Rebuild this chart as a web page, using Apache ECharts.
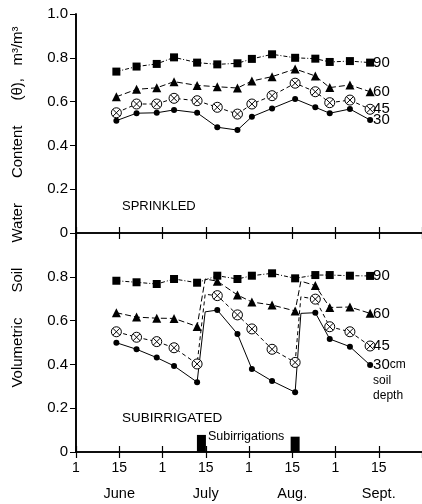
<!DOCTYPE html>
<html><head><meta charset="utf-8">
<script src="https://cdn.jsdelivr.net/npm/echarts@6/dist/echarts.min.js"></script>
<style>html,body{margin:0;padding:0;background:#fff}#c{width:422px;height:504px}</style>
</head><body><div id="c"></div>
<script>
// x values: days after June 1 (ticks every 15 days = half month)
const days = [14, 21, 28, 34, 42, 49, 56, 61, 68, 76, 83, 88, 95, 102];
const tickLabels = ['1', '15', '1', '15', '1', '15', '1', '15'];
const monthLabels = ['June', 'July', 'Aug.', 'Sept.'];
const yTickLabels = ['0', '0.2', '0.4', '0.6', '0.8', '1.0'];

const sprinkled90 = [0.737, 0.760, 0.772, 0.802, 0.778, 0.770, 0.775, 0.795, 0.816, 0.800, 0.796, 0.781, 0.785, 0.778];
const sprinkled60 = [0.622, 0.656, 0.663, 0.691, 0.674, 0.668, 0.662, 0.694, 0.714, 0.749, 0.717, 0.664, 0.676, 0.645];
const sprinkled45 = [0.549, 0.589, 0.589, 0.615, 0.604, 0.574, 0.543, 0.589, 0.627, 0.684, 0.645, 0.595, 0.607, 0.565];
const sprinkled30 = [0.513, 0.547, 0.549, 0.562, 0.549, 0.483, 0.470, 0.531, 0.569, 0.612, 0.574, 0.547, 0.566, 0.516];

const subirrigated90 = [0.782, 0.775, 0.767, 0.790, 0.773, 0.805, 0.790, 0.805, 0.816, 0.793, 0.808, 0.808, 0.805, 0.804];
const subirrigated60 = [0.636, 0.616, 0.611, 0.610, 0.573, 0.780, 0.717, 0.685, 0.671, 0.644, 0.760, 0.660, 0.662, 0.633];
const subirrigated45 = [0.549, 0.524, 0.504, 0.476, 0.402, 0.714, 0.626, 0.562, 0.469, 0.409, 0.698, 0.572, 0.549, 0.484];
const subirrigated30 = [0.499, 0.469, 0.431, 0.393, 0.319, 0.648, 0.539, 0.379, 0.324, 0.273, 0.636, 0.516, 0.481, 0.397];

// unmarked vertices where water rises right after each subirrigation
const jumpDays = [44.8, 78];
const jump60 = [0.790, 0.780];
const jump45 = [0.720, 0.709];
const jump30 = [0.640, 0.633];

const irrigationDays = [43.5, 76];
const irrigationBars = [0.078, 0.070];

const FONT = 'Liberation Sans, Arial, sans-serif';
const BLACK = '#000';
const otimes = 'path://M10,0A10,10,0,1,1,10,20A10,10,0,1,1,10,0ZM2.93,2.93L17.07,17.07M17.07,2.93L2.93,17.07';

const styles = {
  '90': { symbol: 'rect', symbolSize: 8, type: [4, 2, 1, 2], fill: BLACK },
  '60': { symbol: 'triangle', symbolSize: 9, type: [6, 3], fill: BLACK },
  '45': { symbol: otimes, symbolSize: 10, type: [4, 3], fill: '#fff' },
  '30': { symbol: 'circle', symbolSize: 6, type: 'solid', fill: BLACK }
};

function buildData(vals, jumps) {
  const out = [];
  vals.forEach((v, i) => {
    out.push([days[i], v]);
    if (jumps) {
      jumpDays.forEach((d, k) => {
        if (d > days[i] && (i + 1 >= days.length || d < days[i + 1])) {
          out.push({ value: [d, jumps[k]], symbol: 'none' });
        }
      });
    }
  });
  return out;
}

function lineSeries(name, vals, grid, jumps, labelFmt, labelExtra) {
  const s = styles[name];
  return {
    type: 'line', name: name,
    xAxisIndex: grid === 0 ? 0 : 2, yAxisIndex: grid === 0 ? 0 : 2,
    data: buildData(vals, jumps),
    symbol: s.symbol, symbolSize: s.symbolSize, symbolKeepAspect: true,
    showAllSymbol: true,
    itemStyle: { color: s.fill, borderColor: BLACK, borderWidth: name === '45' ? 1 : 0 },
    lineStyle: { color: BLACK, width: 1, type: s.type },
    emphasis: { disabled: true },
    silent: true,
    z: 3,
    endLabel: Object.assign({
      show: true, color: BLACK, fontFamily: FONT, fontSize: 15, distance: 3,
      formatter: labelFmt || name
    }, labelExtra || {})
  };
}

const xBase = { type: 'value', min: 0, max: 120, interval: 15, splitLine: { show: false } };
const axisLine = { show: true, lineStyle: { color: BLACK, width: 1.6 } };
const innerTick = { inside: true, length: 6, lineStyle: { color: BLACK, width: 1.2 } };

const option = {
  animation: false,
  backgroundColor: '#fff',
  grid: [
    { left: 76, top: 14, width: 349, height: 219 },
    { left: 76, top: 233, width: 349, height: 219 }
  ],
  title: [
    { text: 'SPRINKLED', left: 117, top: 195, textStyle: { fontFamily: FONT, fontSize: 13, fontWeight: 'normal', color: BLACK } },
    { text: 'SUBIRRIGATED', left: 117, top: 406, textStyle: { fontFamily: FONT, fontSize: 13.5, fontWeight: 'normal', color: BLACK } }
  ],
  xAxis: [
    Object.assign({ gridIndex: 0, position: 'bottom', axisLine: axisLine, axisTick: innerTick, axisLabel: { show: false } }, xBase),
    Object.assign({ gridIndex: 0, position: 'top', axisLine: axisLine, axisTick: innerTick, axisLabel: { show: false } }, xBase),
    Object.assign({ gridIndex: 1, position: 'bottom', axisLine: axisLine, axisTick: innerTick,
      axisLabel: { show: true, margin: 9, color: BLACK, fontFamily: FONT, fontSize: 14, showMaxLabel: false,
        formatter: v => tickLabels[Math.round(v / 15)] || '' } }, xBase),
    Object.assign({ gridIndex: 1, position: 'top', axisLine: axisLine, axisTick: innerTick, axisLabel: { show: false } }, xBase),
    Object.assign({ gridIndex: 1, position: 'bottom', offset: 25, axisLine: { show: false }, axisTick: { show: false },
      axisLabel: { show: true, margin: 9, color: BLACK, fontFamily: FONT, fontSize: 14.5, showMaxLabel: false,
        formatter: v => { const i = Math.round(v / 15); return i % 2 === 1 ? (monthLabels[(i - 1) / 2] || '') : ''; } } }, xBase)
  ],
  yAxis: [
    { gridIndex: 0, type: 'value', min: 0, max: 1, interval: 0.2, position: 'left', splitLine: { show: false },
      axisLine: axisLine, axisTick: { show: true, length: 4, lineStyle: { color: BLACK } },
      axisLabel: { color: BLACK, fontFamily: FONT, fontSize: 15, margin: 8, formatter: v => yTickLabels[Math.round(v * 5)] } },
    { gridIndex: 0, type: 'value', min: 0, max: 1, interval: 0.2, position: 'right', splitLine: { show: false },
      axisLine: axisLine, axisTick: { show: true, inside: true, length: 6, lineStyle: { color: BLACK } }, axisLabel: { show: false } },
    { gridIndex: 1, type: 'value', min: 0, max: 1, interval: 0.2, position: 'left', splitLine: { show: false },
      axisLine: axisLine, axisTick: { show: true, length: 4, lineStyle: { color: BLACK } },
      axisLabel: { color: BLACK, fontFamily: FONT, fontSize: 15, margin: 8, showMaxLabel: false,
        formatter: v => { const i = Math.round(v * 5); return i === 5 ? '' : yTickLabels[i]; } } },
    { gridIndex: 1, type: 'value', min: 0, max: 1, interval: 0.2, position: 'right', splitLine: { show: false },
      axisLine: axisLine, axisTick: { show: true, inside: true, length: 6, lineStyle: { color: BLACK } }, axisLabel: { show: false } }
  ],
  graphic: [
    { type: 'text', x: 18, y: 207, rotation: Math.PI / 2,
      style: { text: 'Volumetric      Soil      Water      Content      (\u03b8),   m\u00b3/m\u00b3', fill: BLACK,
        font: '15px ' + FONT, textAlign: 'center', textVerticalAlign: 'middle' } }
  ],
  series: [
    lineSeries('90', sprinkled90, 0),
    lineSeries('60', sprinkled60, 0),
    lineSeries('45', sprinkled45, 0),
    lineSeries('30', sprinkled30, 0),
    lineSeries('90', subirrigated90, 1),
    lineSeries('60', subirrigated60, 1, jump60),
    lineSeries('45', subirrigated45, 1, jump45),
    lineSeries('30', subirrigated30, 1, jump30, '30{s|cm}\n{t|soil}\n{t|depth}',
      { offset: [0, 15], lineHeight: 16, rich: { s: { fontSize: 12, fontFamily: FONT, color: BLACK }, t: { fontSize: 12, fontFamily: FONT, color: BLACK, lineHeight: 15 } } }),
    { type: 'bar', xAxisIndex: 2, yAxisIndex: 2, barWidth: 9, silent: true,
      itemStyle: { color: BLACK },
      data: irrigationDays.map((d, i) => i === 0
        ? { value: [d, irrigationBars[i]], label: { show: true, formatter: 'Subirrigations', position: [11, -5], color: BLACK, fontFamily: FONT, fontSize: 12.5 } }
        : [d, irrigationBars[i]]) }
  ]
};

const chart = echarts.init(document.getElementById('c'), null, { renderer: 'canvas' });
chart.setOption(option);
</script>
</body></html>
